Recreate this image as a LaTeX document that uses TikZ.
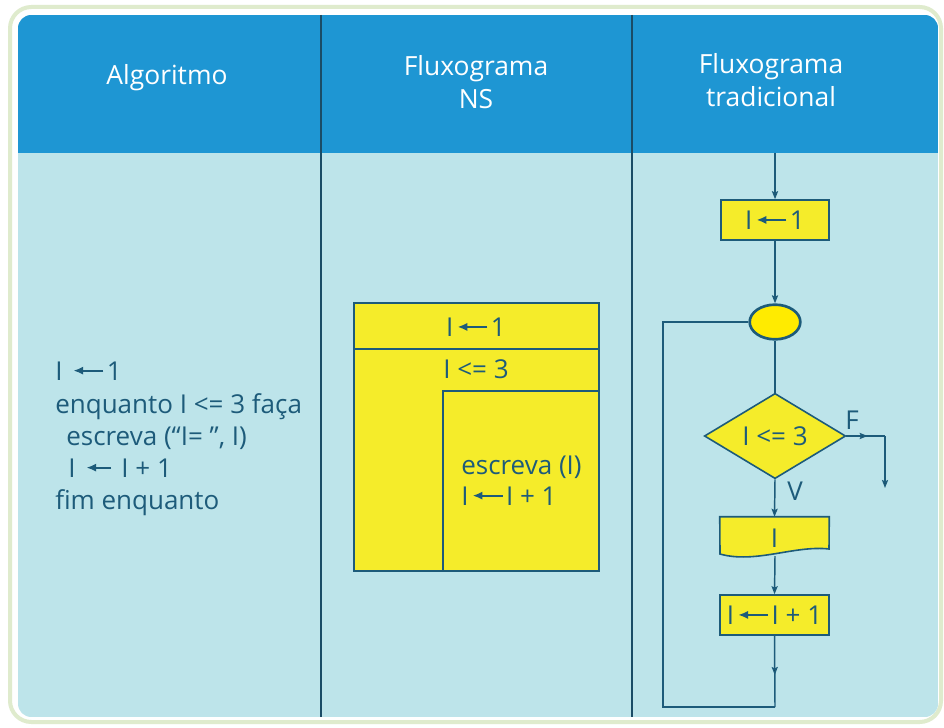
\documentclass[tikz,border=0pt]{standalone}
\usepackage{fontspec}
\setmainfont{Open Sans}
\usetikzlibrary{arrows.meta,shapes.geometric,decorations.markings}
\definecolor{hdr}{HTML}{1E96D3}
\definecolor{bodyc}{HTML}{BDE4EA}
\definecolor{framec}{HTML}{DFEBCD}
\definecolor{ink}{HTML}{1D5B7A}
\definecolor{sepc}{HTML}{1A4C66}
\definecolor{yel}{HTML}{F5EC2A}
\definecolor{yelb}{HTML}{FFEB00}
\newcommand{\la}[1][1.15em]{\hspace{0.12em}\tikz[x=1pt,y=1pt,baseline=0pt]{\draw[ink,line width=0.075em,-{Latex[length=0.38em,width=0.32em]}] (#1,0.36em) -- (0,0.36em);}\hspace{0.1em}}
\tikzset{
  hdrtext/.style={text=white, font=\fontsize{19.8}{25}\selectfont, align=center},
  bodytext/.style={text=ink, font=\fontsize{19.5}{24}\selectfont, inner sep=0pt},
  fbox/.style={draw=ink, fill=yel, line width=1.2pt, text=ink, font=\fontsize{19.5}{24}\selectfont, inner sep=0pt},
  conn/.style={draw=ink, line width=1.1pt},
  arr/.style={conn, -{Stealth[length=6pt,width=4.6pt,inset=1pt]}},
  midarr/.style={conn, postaction={decorate}, decoration={markings, mark=at position 0.55 with {\arrow{Stealth[length=6pt,width=4.6pt,inset=1pt]}}}},
}
\begin{document}
\begin{tikzpicture}[x=0.75pt,y=-0.75pt]
\useasboundingbox (0,0) rectangle (944,727);
\fill[white] (0,0) rectangle (944,727);
\draw[framec, line width=3pt, rounded corners=16pt] (10,7) rectangle (941,722);
\begin{scope}
  \clip[rounded corners=10pt] (18,15) rectangle (938,717);
  \fill[bodyc] (18,15) rectangle (938,717);
  \fill[hdr] (18,15) rectangle (938,153);
\end{scope}
\draw[sepc, line width=1.5pt] (321,15) -- (321,717);
\draw[sepc, line width=1.5pt] (632,15) -- (632,717);
% headers
\node[hdrtext] (h1) at (167,78) {Algoritmo};
\node[hdrtext] (h2) at (476,82) {Fluxograma\\NS};
\node[hdrtext] (h3) at (771,80) {Fluxograma\\tradicional};
% algorithm
\node[bodytext, anchor=base west] (a1) at (55,380) {I \la1};
\node[bodytext, anchor=base west] (a2) at (55,413) {enquanto I <= 3 faça};
\node[bodytext, anchor=base west] (a3) at (66,445) {escreva (“I= ”, I)};
\node[bodytext, anchor=base west] (a4) at (68,477) {I \la[0.95em] I + 1};
\node[bodytext, anchor=base west] (a5) at (55,509) {fim enquanto};
% NS diagram
\draw[fbox] (354,303) rectangle (599,571);
\draw[ink, line width=1.2pt] (354,349) -- (599,349);
\draw[ink, line width=1.2pt] (443,571) |- (599,391);
\node[bodytext] (n1) at (476,327) {I\la1};
\node[bodytext] (n2) at (476,369) {I <= 3};
\node[bodytext, anchor=base west] (n3) at (461,474) {escreva (I)};
\node[bodytext, anchor=base west] (n4) at (461,505) {I\la I + 1};
% traditional flowchart
\coordinate (st) at (775,153);
\node[fbox, minimum width=81pt, minimum height=30pt] (b1) at (775,220) {I\la1};
\node[ellipse, draw=ink, fill=yelb, line width=2pt, minimum width=38pt, minimum height=26pt, inner sep=0pt] (el) at (775,322) {};
\node[diamond, fbox, aspect=1.67, minimum width=106pt, minimum height=64pt] (dm) at (775,436) {I <= 3};
\node[minimum width=81.75pt, minimum height=27pt, inner sep=0pt] (doc) at (774.5,535) {};
\draw[fbox] (doc.north west) -- (doc.north east) -- (829,549) .. controls (795,545) and (755,564) .. (720,554) -- cycle;
\node[bodytext] (di) at (774.5,538) {I};
\node[fbox, minimum width=81.75pt, minimum height=30pt] (b2) at (774.5,615) {I\la I + 1};
\coordinate (lb) at (775,707);
\coordinate (ll) at (663,707);
\coordinate (lt) at (663,322);
\coordinate (fr) at (885,436);
\coordinate (fe) at (885,488);
\draw[arr] (st) -- (b1.north);
\draw[arr] (b1) -- (el);
\draw[conn] (el) -- (dm);
\draw[arr] (dm.south) -- (doc.north);
\draw[arr] (775,556) -- (b2.north);
\draw[midarr] (b2.south) -- (lb);
\draw[conn] (lb) -- (ll) -- (lt) -- (el.west);
\draw[midarr] (dm.east) -- (fr);
\draw[arr] (fr) -- (fe);
\node[bodytext] (lf) at (852,420) {F};
\node[bodytext] (lv) at (795,491) {V};
\end{tikzpicture}
\end{document}
